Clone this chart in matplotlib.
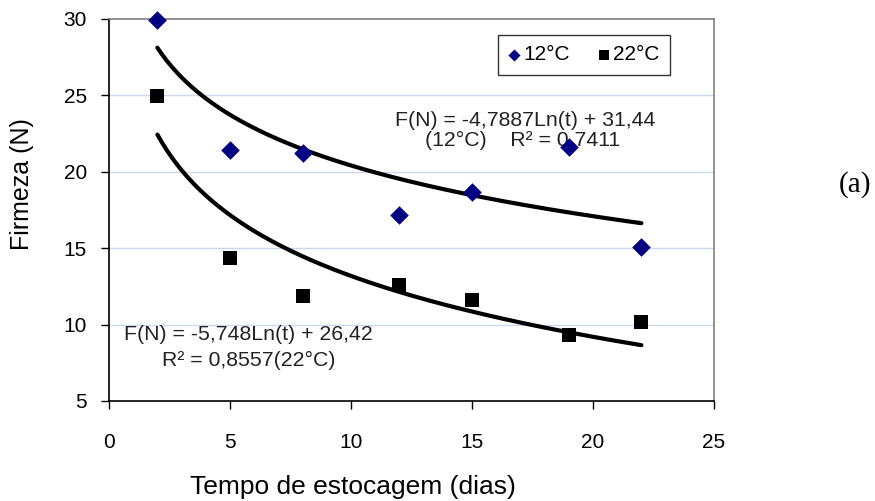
import numpy as np
import matplotlib
matplotlib.use("Agg")
import matplotlib.pyplot as plt

plt.rcParams['font.family'] = ['Liberation Sans', 'DejaVu Sans']

# Data
days = [2, 5, 8, 12, 15, 19, 22]
firm_12 = [29.95, 21.4, 21.25, 17.2, 18.65, 21.6, 15.1]
firm_22 = [24.95, 14.35, 11.9, 12.6, 11.6, 9.35, 10.2]
fit_12 = (-4.7887, 31.44)
fit_22 = (-5.748, 26.42)
xticks = [0, 5, 10, 15, 20, 25]
yticks = [5, 10, 15, 20, 25, 30]

fig = plt.figure(figsize=(8.75, 5.01), dpi=100)
ax = fig.add_axes([109/875, 100/501, 605/875, 382/501])

t = np.linspace(min(days), max(days), 200)
ax.plot(t, fit_12[0]*np.log(t) + fit_12[1], color='black', lw=3.0, solid_capstyle='round', zorder=2)
ax.plot(t, fit_22[0]*np.log(t) + fit_22[1], color='black', lw=3.0, solid_capstyle='round', zorder=2)

ax.scatter(days, firm_12, marker='D', s=90, color='#000080', label='12°C', zorder=3,
           linewidths=0, clip_on=False)
ax.scatter(days, firm_22, marker='s', s=115, color='black', label='22°C', zorder=3,
           linewidths=0, clip_on=False)

ax.set_xlim(0, 25)
ax.set_ylim(5, 30)
ax.set_xticks(xticks)
ax.set_yticks(yticks)
ax.tick_params(direction='out', length=6, width=1, labelsize=15, colors='black', pad=10)
ax.tick_params(axis='x', pad=17)
for y in yticks[1:-1]:
    ax.axhline(y, color='#c9d9ef', lw=1, zorder=0)

ax.spines['left'].set_color('black')
ax.spines['bottom'].set_color('black')
ax.spines['top'].set_color('#808080')
ax.spines['right'].set_color('#808080')
for s in ax.spines.values():
    s.set_linewidth(1.2)

fig.text(353/875, 1-487/501, 'Tempo de estocagem (dias)', ha='center', va='center', fontsize=19)
fig.text(22/875, 1-184/501, 'Firmeza (N)', ha='center', va='center', rotation=90, fontsize=18)

ax.text(17.2, 23.39, 'F(N) = -4,7887Ln(t) + 31,44', ha='center', va='center', fontsize=15.3, color='#222222')
ax.text(17.1, 22.08, '(12°C)    R² = 0,7411', ha='center', va='center', fontsize=15.3, color='#222222', zorder=1)
ax.text(5.76, 9.32, 'F(N) = -5,748Ln(t) + 26,42', ha='center', va='center', fontsize=15.3, color='#222222')
ax.text(5.76, 7.68, 'R² = 0,8557(22°C)', ha='center', va='center', fontsize=15.3, color='#222222')

leg = ax.legend(loc='upper left', bbox_to_anchor=((498-109)/605, (401-35)/382), borderaxespad=0,
                ncol=2, fontsize=15, frameon=True, fancybox=False, edgecolor='black',
                handlelength=0.5, handletextpad=0.2, columnspacing=1.4, borderpad=0.5,
                markerscale=0.65)
leg.get_frame().set_linewidth(1.0)

fig.text(855/875, 1-185/501, '(a)', ha='center', va='center', fontsize=21, family='Liberation Serif')

fig.savefig('out.png', dpi=100)
